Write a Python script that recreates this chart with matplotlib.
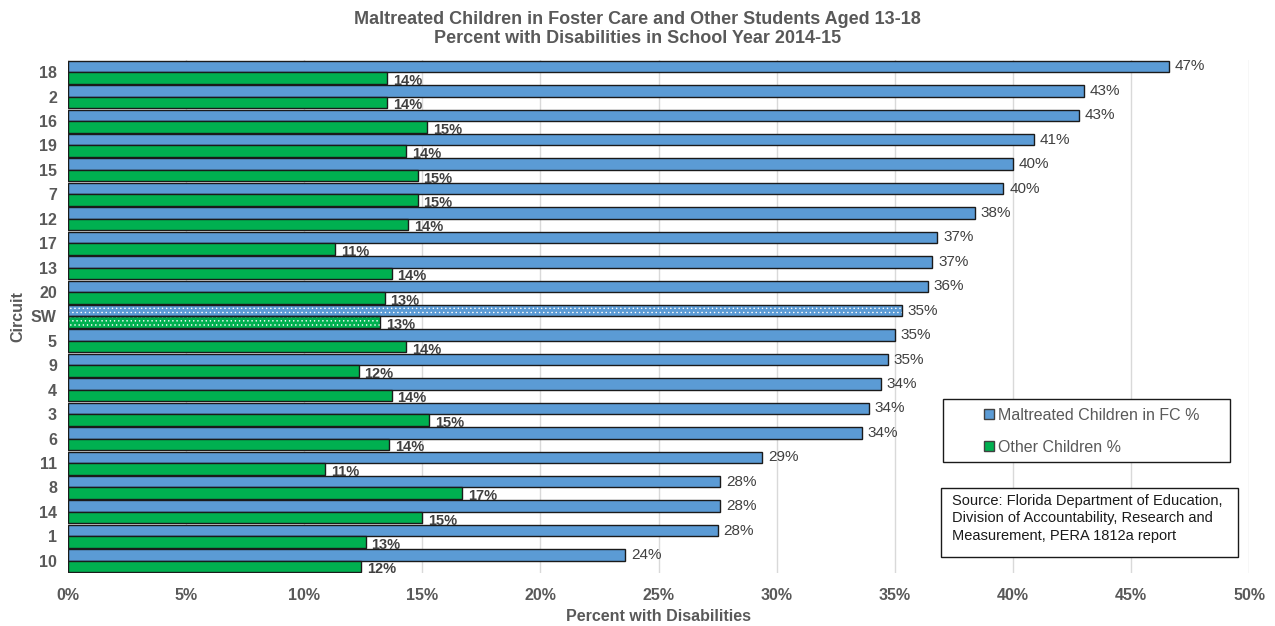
import numpy as np
import matplotlib.pyplot as plt
from matplotlib.patches import Patch, Rectangle

circuits = ["18", "2", "16", "19", "15", "7", "12", "17", "13", "20", "SW",
            "5", "9", "4", "3", "6", "11", "8", "14", "1", "10"]
fc_pct = [46.6, 43.0, 42.8, 40.9, 40.0, 39.6, 38.4, 36.8, 36.6, 36.4, 35.3,
          35.0, 34.7, 34.4, 33.9, 33.6, 29.4, 27.6, 27.6, 27.5, 23.6]
other_pct = [13.5, 13.5, 15.2, 14.3, 14.8, 14.8, 14.4, 11.3, 13.7, 13.4, 13.2,
             14.3, 12.3, 13.7, 15.3, 13.6, 10.9, 16.7, 15.0, 12.6, 12.4]

blue  = "#5b9bd5"
green = "#00b050"
txt   = "#595959"

plt.rcParams['font.family'] = ['Liberation Sans', 'DejaVu Sans']
plt.rcParams['hatch.linewidth'] = 0.5

W, H = 1275, 626
fig = plt.figure(figsize=(W/100, H/100), dpi=100)
ax = fig.add_axes([68/W, 1 - 573/H, (1249-68)/W, (573-60)/H])

ys = np.arange(len(circuits))
h = 0.47
sw = circuits.index("SW")

for i in ys:
    for val, off, col, bold in [(fc_pct[i], -h/2, blue, False), (other_pct[i], h/2, green, True)]:
        if i == sw:
            ax.barh(i + off, val, height=h, color=col, edgecolor="white",
                    hatch="....", linewidth=0, zorder=3)
            ax.barh(i + off, val, height=h, fill=False, edgecolor="#1a1a1a",
                    linewidth=1, zorder=4)
        else:
            ax.barh(i + off, val, height=h, color=col, edgecolor="#1a1a1a",
                    linewidth=1, zorder=3)
        ax.text(val + 0.25, i + off + (0.12 if bold else 0), "{:.0f}%".format(val),
                va="center", ha="left", fontsize=11 if not bold else 10.5,
                fontweight="bold" if bold else "normal", color="#404040", zorder=5)

ax.set_ylim(len(circuits) - 0.5, -0.5)
ax.set_xlim(0, 50)
ax.set_yticks(ys)
ax.set_yticklabels(circuits, fontsize=11.5, fontweight="bold", color=txt)
ax.set_xticks(np.arange(0, 51, 5))
ax.set_xticklabels(["{}%".format(v) for v in range(0, 51, 5)], fontsize=11.5,
                   fontweight="bold", color=txt)
ax.tick_params(axis="x", length=0, pad=11)
ax.tick_params(axis="y", length=0, pad=8)
ax.grid(axis="x", color="#d9d9d9", linewidth=1, zorder=0)
for s in ax.spines.values():
    s.set_visible(False)

ax.set_xlabel("Percent with Disabilities", fontsize=11.5, fontweight="bold",
              color=txt, labelpad=4)
ax.set_ylabel("Circuit", fontsize=11.5, fontweight="bold", color=txt, labelpad=4)

fig.suptitle("Maltreated Children in Foster Care and Other Students Aged 13-18\n"
             "Percent with Disabilities in School Year 2014-15",
             fontsize=13, fontweight="bold", color=txt, y=0.982, linespacing=1.15)

# legend box
fig.patches.append(Rectangle((943/W, 1 - 462/H), (1230-943)/W, (462-399)/H,
                             transform=fig.transFigure, facecolor="white",
                             edgecolor="#1a1a1a", linewidth=1, zorder=6))
handles = [Patch(facecolor=blue, edgecolor="#404040", label="Maltreated Children in FC %"),
           Patch(facecolor=green, edgecolor="#404040", label="Other Children %")]
leg = fig.legend(handles=handles, loc="upper left",
                 bbox_to_anchor=(984/W, 1 - 408/H), frameon=False,
                 fontsize=11.5, labelspacing=1.05, handlelength=0.6,
                 handleheight=0.6, handletextpad=0.25, borderpad=0, borderaxespad=0)
leg.set_zorder(7)
for t in leg.get_texts():
    t.set_color(txt)

# source box
fig.patches.append(Rectangle((941/W, 1 - 557/H), (1238-941)/W, (557-488)/H,
                             transform=fig.transFigure, facecolor="white",
                             edgecolor="#1a1a1a", linewidth=1, zorder=6))
fig.text(952/W, 1 - 494/H,
         "Source: Florida Department of Education,\n"
         "Division of Accountability, Research and\n"
         "Measurement, PERA 1812a report",
         ha="left", va="top", fontsize=10.5, color="#1a1a1a", linespacing=1.3,
         zorder=7)

fig.savefig("out.png", dpi=100)
